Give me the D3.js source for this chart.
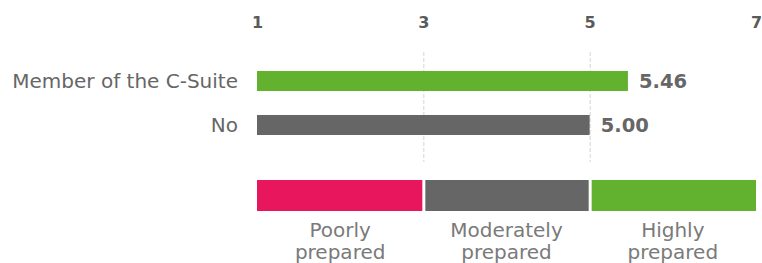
<!DOCTYPE html>
<html lang="en">
<head>
<meta charset="UTF-8">
<title>Preparedness by role</title>
<script src="https://d3js.org/d3.v7.min.js"></script>
<style>
    body { margin: 0; padding: 0; background: #fff; }
    svg text { font-family: "DejaVu Sans", sans-serif; }
</style>
</head>
<body>
<div id="chart"></div>
<script>
    // data
    var groups = ["Member of the C-Suite", "No"];
    var scores = [5.46, 5.00];
    var barColors = ["#63b22f", "#666666"];

    var tickValues = [1, 3, 5, 7];
    var gridValues = [3, 5];

    var bandLabels = [["Poorly", "prepared"], ["Moderately", "prepared"], ["Highly", "prepared"]];
    var bandStarts = [1, 3, 5];
    var bandEnds = [3, 5, 7];
    var bandColors = ["#e8175d", "#666666", "#63b22f"];

    var svgWidth = 762, svgHeight = 263;

    var svg = d3.select("#chart").append("svg")
        .attr("width", svgWidth)
        .attr("height", svgHeight);

    var x = d3.scaleLinear().domain([1, 7]).range([257, 756]);

    var y = d3.scaleBand()
        .domain(groups)
        .range([49, 157])
        .paddingInner(0.545)
        .paddingOuter(0.5);

    // gridlines at 3 and 5
    svg.selectAll(".grid")
        .data(gridValues)
        .enter().append("line")
        .attr("class", "grid")
        .attr("x1", d => x(d) + 0.5)
        .attr("x2", d => x(d) + 0.5)
        .attr("y1", 52)
        .attr("y2", 162)
        .attr("stroke", "#d4d4d4")
        .attr("stroke-dasharray", "4,2");

    // top axis, labels only
    var axis = svg.append("g")
        .attr("transform", "translate(0,28)")
        .call(d3.axisTop(x).tickValues(tickValues).tickFormat(d3.format("d")).tickSize(0).tickPadding(0));
    axis.select(".domain").remove();
    axis.selectAll("text")
        .attr("font-family", "'DejaVu Sans', sans-serif")
        .attr("font-size", 16)
        .attr("font-weight", 700)
        .attr("fill", "#5a5a5a");

    // bars
    svg.selectAll(".bar")
        .data(groups)
        .enter().append("rect")
        .attr("class", "bar")
        .attr("x", x(1))
        .attr("y", d => y(d))
        .attr("width", (d, i) => x(scores[i]) - x(1))
        .attr("height", y.bandwidth())
        .attr("fill", (d, i) => barColors[i]);

    // category labels
    svg.selectAll(".cat")
        .data(groups)
        .enter().append("text")
        .attr("class", "cat")
        .attr("x", 238)
        .attr("y", d => y(d) + y.bandwidth() / 2)
        .attr("dy", "0.36em")
        .attr("text-anchor", "end")
        .attr("font-size", 20)
        .attr("fill", "#666")
        .text(d => d);

    // value labels
    svg.selectAll(".val")
        .data(groups)
        .enter().append("text")
        .attr("class", "val")
        .attr("x", (d, i) => x(scores[i]) + 11)
        .attr("y", d => y(d) + y.bandwidth() / 2)
        .attr("dy", "0.36em")
        .attr("font-size", 19.5)
        .attr("font-weight", 700)
        .attr("fill", "#666")
        .text((d, i) => scores[i].toFixed(2));

    // preparedness legend bands
    svg.selectAll(".band")
        .data(bandColors)
        .enter().append("rect")
        .attr("class", "band")
        .attr("x", (d, i) => x(bandStarts[i]) + (i === 0 ? 0 : 2))
        .attr("y", 180)
        .attr("width", (d, i) => x(bandEnds[i]) - x(bandStarts[i]) - (i === 0 ? 1 : 3) + (i === 2 ? 1 : 0))
        .attr("height", 31)
        .attr("fill", d => d);

    var bandText = svg.selectAll(".bandlabel")
        .data(bandLabels)
        .enter().append("text")
        .attr("class", "bandlabel")
        .attr("text-anchor", "middle")
        .attr("font-size", 20)
        .attr("fill", "#7a7a7a");

    bandText.selectAll("tspan")
        .data((d, i) => d.map(t => ({ t: t, i: i })))
        .enter().append("tspan")
        .attr("x", d => (x(bandStarts[d.i]) + x(bandEnds[d.i])) / 2)
        .attr("y", (d, j) => 237 + j * 22)
        .text(d => d.t);
</script>
</body>
</html>
